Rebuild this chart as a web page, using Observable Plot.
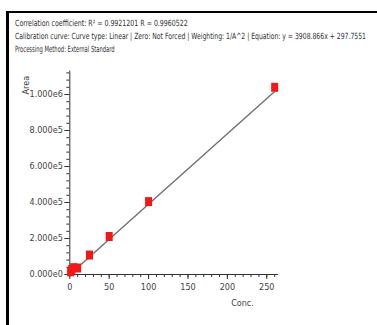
<!DOCTYPE html>
<html>
<head>
<meta charset="utf-8">
<script src="https://cdn.jsdelivr.net/npm/d3@7"></script>
<script src="https://cdn.jsdelivr.net/npm/@observablehq/plot@0.6"></script>
<style>
  html, body { margin: 0; padding: 0; background: #fff; width: 377px; height: 325px; overflow: hidden; }
  #border { position: absolute; left: 6px; top: 11px; width: 371px; height: 314px; box-sizing: border-box;
            border-top: 2px solid #000; border-left: 3px solid #000; }
  #header { position: absolute; left: 9px; top: 13px; }
  #chart { position: absolute; left: 9px; top: 60px; }
  .ff { font-family: "Liberation Sans Narrow", "DejaVu Sans Condensed", "Roboto Condensed", "Liberation Sans", sans-serif; }
</style>
</head>
<body>
<div id="border"></div>
<div id="header"></div>
<div id="chart"></div>
<script>
// ---- data ----
const headerLines = [
  "Correlation coefficient: R\u00B2 = 0.9921201 R = 0.9960522",
  "Calibration curve: Curve type: Linear | Zero: Not Forced | Weighting: 1/A^2 | Equation: y = 3908.866x + 297.7551",
  "Processing Method: External Standard"
];
const conc = [1, 2.5, 5, 10, 25, 50, 100, 260];
const area = [15000, 28000, 38000, 36000, 108000, 211000, 405000, 1040000];
const originConc = [0];
const originArea = [4000];
const slope = 3908.866;
const intercept = 297.7551;
const yTicks = [0, 200000, 400000, 600000, 800000, 1000000];
const xTicks = [0, 50, 100, 150, 200, 250];
const yMinorStep = 40000;
const xMinorStep = 10;
const xLabel = "Conc.";
const yLabel = "Area";

// ---- header ----
const headerWidths = [173, 352, 100];
const hsvg = d3.select("#header").append("svg").attr("width", 368).attr("height", 47);
headerLines.forEach((t, i) => {
  const g = hsvg.append("g");
  const txt = g.append("text").attr("class", "ff")
    .attr("x", 0).attr("y", 0)
    .attr("font-size", 8.5).attr("fill", "#333")
    .text(t);
  const natural = txt.node().getComputedTextLength() || headerWidths[i];
  const sx = headerWidths[i] / natural;
  g.attr("transform", `translate(6,${13 + i * 12.8}) scale(${sx},1)`);
});

// ---- chart ----
const pts = conc.map((c, i) => ({c, a: area[i]}));
const origin = originConc.map((c, i) => ({c, a: originArea[i]}));
const xMax = 265, yMax = 1130000;
const fit = [0, d3.max(conc)].map(c => ({c, a: slope * c + intercept}));
const fmt = v => { const [m, e] = v.toExponential(3).split("e"); return m + "e" + (+e); };

const rectSymbol = { draw(ctx) { ctx.rect(-3.5, -4.5, 7, 9); } };

const plot = Plot.plot({
  width: 368, height: 265,
  marginLeft: 60.3, marginRight: 98.9, marginTop: 10.6, marginBottom: 51,
  style: { fontFamily: '"Liberation Sans Narrow", "DejaVu Sans Condensed", "Roboto Condensed", "Liberation Sans", sans-serif', fontSize: "9px", color: "#444", background: "#fff" },
  x: { domain: [0, xMax] },
  y: { domain: [0, yMax] },
  marks: [
    Plot.axisY(d3.range(0, yMax, yMinorStep), { tickSize: 3, tickFormat: () => "", stroke: "#333", label: null }),
    Plot.axisY(yTicks, { tickSize: 5, tickPadding: 2, tickFormat: fmt, stroke: "#333", fill: "#444", label: null }),
    Plot.axisX(d3.range(0, xMax, xMinorStep), { tickSize: 3, tickFormat: () => "", stroke: "#333", label: null }),
    Plot.axisX(xTicks, { tickSize: 5, tickPadding: 4, stroke: "#333", fill: "#444", label: null }),
    Plot.ruleX([0], { stroke: "#333", strokeWidth: 1 }),
    Plot.ruleY([0], { stroke: "#333", strokeWidth: 1 }),
    Plot.line(fit, { x: "c", y: "a", stroke: "#707070", strokeWidth: 1.4 }),
    Plot.dot(origin, { x: "c", y: "a", r: 2, fill: "#7a3fc0", stroke: null }),
    Plot.dot(pts, { x: "c", y: "a", symbol: rectSymbol, fill: "#f21818", stroke: null }),
    Plot.text([yLabel], { frameAnchor: "top-left", dx: -47.3, dy: 14, rotate: -90, textAnchor: "middle", fill: "#444", fontSize: 9 }),
    Plot.text([xLabel], { frameAnchor: "bottom-left", dx: 172.7, dy: 31, textAnchor: "middle", fill: "#444", fontSize: 9 })
  ]
});
document.getElementById("chart").appendChild(plot);
</script>
</body>
</html>
